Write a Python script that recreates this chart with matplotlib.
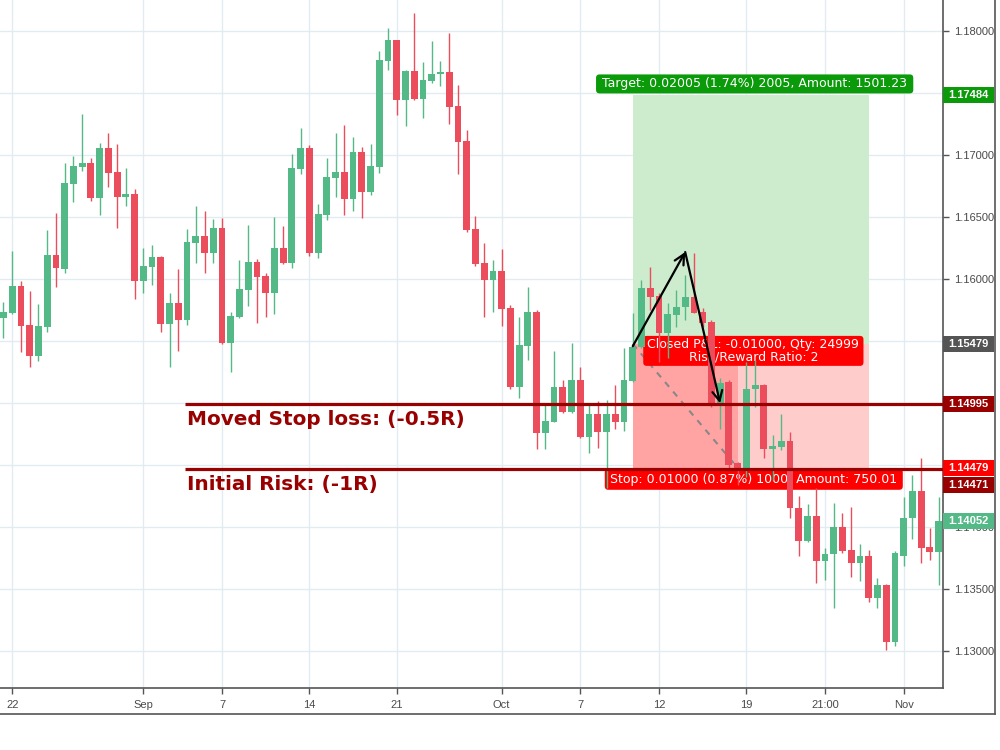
import matplotlib
matplotlib.use("Agg")
import matplotlib.pyplot as plt
from matplotlib.patches import Rectangle, FancyBboxPatch
from matplotlib.lines import Line2D
import matplotlib.transforms as mtransforms

# ---------------- data (12h candles, EURUSD) ----------------
opens = [1.15688, 1.15728, 1.15946, 1.15631, 1.15381, 1.15615, 1.16196, 1.16083, 1.16769, 1.16906,
         1.16939, 1.16656, 1.17060, 1.16866, 1.16664, 1.16688, 1.15986, 1.16099, 1.16180, 1.15639,
         1.15809, 1.15672, 1.16293, 1.16349, 1.16212, 1.16414, 1.15486, 1.15696, 1.15914, 1.16140,
         1.16027, 1.15890, 1.16253, 1.16132, 1.16890, 1.17060, 1.16212, 1.16519, 1.16817, 1.16866,
         1.16648, 1.17027, 1.16705, 1.16906, 1.17762, 1.17931, 1.17447, 1.17681, 1.17455, 1.17600,
         1.17657, 1.17673, 1.17399, 1.17116, 1.16406, 1.16132, 1.15994, 1.16067, 1.15768, 1.15131,
         1.15462, 1.15736, 1.14757, 1.14849, 1.15131, 1.14930, 1.15188, 1.14727, 1.14917, 1.14766,
         1.14917, 1.14849, 1.15179, 1.15454, 1.15930, 1.15867, 1.15567, 1.15712, 1.15777, 1.15857,
         1.15736, 1.15655, 1.14994, 1.15171, 1.14518, 1.14477, 1.15115, 1.15147, 1.14631, 1.14647,
         1.14695, 1.14154, 1.13888, 1.14090, 1.13727, 1.13783, 1.14001, 1.13816, 1.13711, 1.13767,
         1.13428, 1.13533, 1.13073, 1.13767, 1.14074, 1.14292, 1.13840, 1.13799]
highs = [1.15817, 1.16228, 1.15986, 1.15906, 1.15801, 1.16398, 1.16535, 1.16939, 1.16995, 1.17334,
         1.16979, 1.17100, 1.17181, 1.17092, 1.16898, 1.16729, 1.16253, 1.16277, 1.16188, 1.15890,
         1.16083, 1.16406, 1.16592, 1.16551, 1.16487, 1.16495, 1.15736, 1.16156, 1.16438, 1.16164,
         1.16051, 1.16503, 1.16430, 1.17011, 1.17221, 1.17084, 1.16608, 1.16979, 1.17181, 1.17245,
         1.17148, 1.17068, 1.17092, 1.17842, 1.18028, 1.17935, 1.17689, 1.18149, 1.17754, 1.17923,
         1.17762, 1.17991, 1.17568, 1.17205, 1.16511, 1.16293, 1.16156, 1.16245, 1.15793, 1.15696,
         1.15938, 1.15752, 1.14986, 1.15421, 1.15188, 1.15486, 1.15292, 1.15002, 1.15018, 1.15026,
         1.15147, 1.15446, 1.15728, 1.15994, 1.16099, 1.15890, 1.15809, 1.15914, 1.16035, 1.16212,
         1.15768, 1.15672, 1.15204, 1.15188, 1.14526, 1.15333, 1.15349, 1.15155, 1.14744, 1.14917,
         1.14768, 1.14251, 1.14187, 1.14316, 1.13831, 1.14195, 1.14114, 1.14163, 1.13864, 1.13816,
         1.13590, 1.13541, 1.13807, 1.14243, 1.14421, 1.14558, 1.13993, 1.14243]
lows = [1.15527, 1.15720, 1.15413, 1.15292, 1.15341, 1.15575, 1.15938, 1.16051, 1.16624, 1.16874,
        1.16632, 1.16519, 1.16745, 1.16414, 1.16592, 1.15841, 1.15890, 1.15954, 1.15575, 1.15292,
        1.15421, 1.15631, 1.16132, 1.16051, 1.16132, 1.15478, 1.15252, 1.15688, 1.15785, 1.15647,
        1.15696, 1.15720, 1.16124, 1.16091, 1.16850, 1.16188, 1.16172, 1.16479, 1.16664, 1.16519,
        1.16551, 1.16495, 1.16680, 1.16858, 1.17689, 1.17326, 1.17237, 1.17450, 1.17302, 1.17584,
        1.17560, 1.17253, 1.16850, 1.16382, 1.16107, 1.15696, 1.15736, 1.15623, 1.15115, 1.15042,
        1.15349, 1.14631, 1.14631, 1.14845, 1.14925, 1.14925, 1.14719, 1.14598, 1.14639, 1.14316,
        1.14795, 1.14779, 1.15171, 1.15446, 1.15752, 1.15333, 1.15363, 1.15615, 1.15672, 1.15725,
        1.15615, 1.14970, 1.14795, 1.14477, 1.14340, 1.14405, 1.14970, 1.14558, 1.14380, 1.14623,
        1.14074, 1.13767, 1.13880, 1.13549, 1.13573, 1.13348, 1.13791, 1.13598, 1.13565, 1.13396,
        1.13348, 1.13009, 1.13041, 1.13684, 1.13904, 1.13711, 1.13735, 1.13537]
closes = [1.15736, 1.15946, 1.15623, 1.15381, 1.15623, 1.16196, 1.16091, 1.16777, 1.16914, 1.16939,
          1.16656, 1.17060, 1.16858, 1.16664, 1.16688, 1.15986, 1.16107, 1.16180, 1.15639, 1.15809,
          1.15672, 1.16301, 1.16349, 1.16212, 1.16414, 1.15486, 1.15704, 1.15922, 1.16140, 1.16019,
          1.15890, 1.16253, 1.16132, 1.16898, 1.17060, 1.16212, 1.16527, 1.16826, 1.16866, 1.16648,
          1.17027, 1.16705, 1.16914, 1.17770, 1.17931, 1.17447, 1.17681, 1.17455, 1.17608, 1.17657,
          1.17673, 1.17391, 1.17108, 1.16398, 1.16124, 1.15994, 1.16067, 1.15760, 1.15131, 1.15470,
          1.15736, 1.14757, 1.14857, 1.15131, 1.14930, 1.15188, 1.14727, 1.14917, 1.14766, 1.14917,
          1.14849, 1.15188, 1.15454, 1.15930, 1.15857, 1.15567, 1.15720, 1.15777, 1.15857, 1.15728,
          1.15647, 1.14994, 1.15163, 1.14502, 1.14477, 1.15115, 1.15147, 1.14631, 1.14655, 1.14695,
          1.14154, 1.13888, 1.14090, 1.13727, 1.13783, 1.14001, 1.13808, 1.13711, 1.13767, 1.13428,
          1.13533, 1.13073, 1.13791, 1.14074, 1.14292, 1.13831, 1.13799, 1.14050]

xtick_idx = [1, 16, 25, 35, 45, 57, 66, 75, 85, 94, 103]
xtick_labels = ["22", "Sep", "7", "14", "21", "Oct", "7", "12", "19", "21:00", "Nov"]
ytick_vals = [1.130, 1.135, 1.140, 1.145, 1.150, 1.155, 1.160, 1.165, 1.170, 1.175, 1.180]

ENTRY = 1.15479
TARGET = 1.17484
STOP = 1.14479
MOVED_STOP = 1.14995
INITIAL_RISK = 1.14471
LAST = 1.14052
ENTRY_IDX = 72
EXIT_IDX = 84
BOX_END_IDX = 99
LINE_START_IDX = 20.77
PEAK = (78.0, 1.1622)
ARROW2_END = (82.0, 1.1500)
ARROW1_START = (72.0, 1.1546)

target_text = "Target: 0.02005 (1.74%) 2005, Amount: 1501.23"
closed_text = "Closed P&L: -0.01000, Qty: 24999\nRisk/Reward Ratio: 2"
stop_text = "Stop: 0.01000 (0.87%) 1000, Amount: 750.01"
moved_text = "Moved Stop loss: (-0.5R)"
initial_text = "Initial Risk: (-1R)"

# ---------------- styling ----------------
GREEN = "#53b987"
RED = "#eb4d5c"
DARKRED = "#990000"
GRID = "#e1ecf2"
AXC = "#555555"

fig = plt.figure(figsize=(10, 7.5), dpi=100)
ax = fig.add_axes([0, 62 / 750, 943 / 1000, 688 / 750])
ax.set_xlim(-0.4, 107.5)
ax.set_ylim(1.12702, 1.18254)

# px -> data helpers (layout only)
PX_Y = (1.18254 - 1.12702) / 688.0
PX_X = 107.9 / 943.0
ASPECT = PX_Y / PX_X

# right-axis levels covered by the coloured price labels
covered = (TARGET, ENTRY, MOVED_STOP, STOP)


def ylab(v):
    for c in covered:
        if abs(v - c) < 10 * PX_Y:
            return ""
    return "%.5f" % v


ax.set_xticks(xtick_idx)
ax.set_xticklabels(xtick_labels)
ax.set_yticks(ytick_vals)
ax.set_yticklabels([ylab(v) for v in ytick_vals])
ax.yaxis.tick_right()
ax.tick_params(axis="both", colors=AXC, labelcolor="#4a4a4a", length=4, width=1,
               labelsize=8)
for lab in ax.get_xticklabels() + ax.get_yticklabels():
    lab.set_fontfamily("Liberation Sans")
ax.tick_params(axis="y", pad=4)
ax.tick_params(axis="x", pad=5)
ax.grid(True, color=GRID, lw=1, zorder=0)
ax.set_axisbelow(True)
for s in ["top", "left"]:
    ax.spines[s].set_visible(False)
for s in ["right", "bottom"]:
    ax.spines[s].set_color(AXC)
    ax.spines[s].set_linewidth(1.2)

# ---------------- position tool fills ----------------
ax.add_patch(Rectangle((ENTRY_IDX, ENTRY), BOX_END_IDX - ENTRY_IDX, TARGET - ENTRY,
                       facecolor="#cdeccd", edgecolor="none", zorder=1))
ax.add_patch(Rectangle((ENTRY_IDX, STOP), BOX_END_IDX - ENTRY_IDX, ENTRY - STOP,
                       facecolor="#ffcccc", edgecolor="none", zorder=1))
ax.add_patch(Rectangle((ENTRY_IDX, STOP), EXIT_IDX - ENTRY_IDX, ENTRY - STOP,
                       facecolor="#ffa3a3", edgecolor="none", zorder=1.1))
ax.plot([ENTRY_IDX, EXIT_IDX], [ENTRY, STOP], color="#888888", lw=1.5,
        ls=(0, (3, 3)), zorder=1.2)


def label_box(x0, x1, ybot, ytop, color, text, fs=9, z=3):
    ax.add_patch(FancyBboxPatch((x0, ybot), x1 - x0, ytop - ybot,
                                boxstyle="round,pad=0,rounding_size=0.4",
                                mutation_aspect=ASPECT, facecolor=color,
                                edgecolor="none", zorder=z))
    ax.text((x0 + x1) / 2, (ybot + ytop) / 2, text, color="white", fontsize=fs,
            ha="center", va="center", zorder=z + 0.1, linespacing=0.95,
            family="DejaVu Sans")


label_box(67.8, 104.1, TARGET + 2 * PX_Y, TARGET + 21 * PX_Y, "#0a9a0a", target_text)
label_box(73.2, 98.4, ENTRY - 22 * PX_Y, ENTRY + 8 * PX_Y, "#ff0000", closed_text)
label_box(68.8, 102.9, STOP - 22 * PX_Y, STOP - 1 * PX_Y, "#ff0000", stop_text)

# ---------------- candles ----------------
w = 0.78
for i, (o, h, l, c) in enumerate(zip(opens, highs, lows, closes)):
    col = GREEN if c >= o else RED
    ax.vlines(i, l, h, color=col, lw=1, zorder=4)
    bot = min(o, c)
    hgt = max(abs(c - o), PX_Y)
    ax.add_patch(Rectangle((i - w / 2, bot), w, hgt, facecolor=col,
                           edgecolor="none", zorder=4.1))

# ---------------- stop lines & text ----------------
for lvl in (MOVED_STOP, INITIAL_RISK):
    ax.plot([LINE_START_IDX, 107.5], [lvl, lvl], color=DARKRED, lw=2.3, zorder=5,
            solid_capstyle="butt")
ax.text(21.0, MOVED_STOP - 21 * PX_Y, moved_text, color=DARKRED, fontsize=14.4,
        fontweight="bold", family="DejaVu Sans", va="baseline", ha="left", zorder=5)
ax.text(21.0, INITIAL_RISK - 21 * PX_Y, initial_text, color=DARKRED, fontsize=14.4,
        fontweight="bold", family="DejaVu Sans", va="baseline", ha="left", zorder=5)

# ---------------- arrows ----------------
ap = dict(arrowstyle="->", lw=1.6, color="black", mutation_scale=18,
          shrinkA=0, shrinkB=0)
ax.annotate("", xy=PEAK, xytext=ARROW1_START, arrowprops=ap, zorder=6)
ax.annotate("", xy=ARROW2_END, xytext=PEAK, arrowprops=ap, zorder=6)

# ---------------- right-axis price labels ----------------
trans = mtransforms.blended_transform_factory(ax.transAxes, ax.transData)
price_labels = [
    (TARGET, TARGET, "#0a9a0a"),
    (ENTRY, ENTRY, "#555555"),
    (MOVED_STOP, MOVED_STOP, DARKRED),
    (STOP, STOP, "#ff0000"),
    (INITIAL_RISK, INITIAL_RISK - 16 * PX_Y, DARKRED),
    (LAST, LAST, GREEN),
]
lab_w = 51 / 943
for val, ypos, col in price_labels:
    ax.add_patch(Rectangle((1.0, ypos - 8 * PX_Y), lab_w, 16 * PX_Y, transform=trans,
                           facecolor=col, edgecolor="none", clip_on=False, zorder=10))
    ax.text(1.0 + lab_w / 2, ypos, "%.5f" % val, transform=trans, color="white",
            fontsize=8, fontweight="bold", family="Liberation Sans",
            ha="center", va="center", clip_on=False, zorder=11)

# ---------------- outer frame ----------------
fig.add_artist(Line2D([995 / 1000, 995 / 1000], [1.0, 36 / 750], color=AXC, lw=1.2))
fig.add_artist(Line2D([0, 995 / 1000], [36 / 750, 36 / 750], color=AXC, lw=1.2))

fig.savefig("out.png", dpi=100)
